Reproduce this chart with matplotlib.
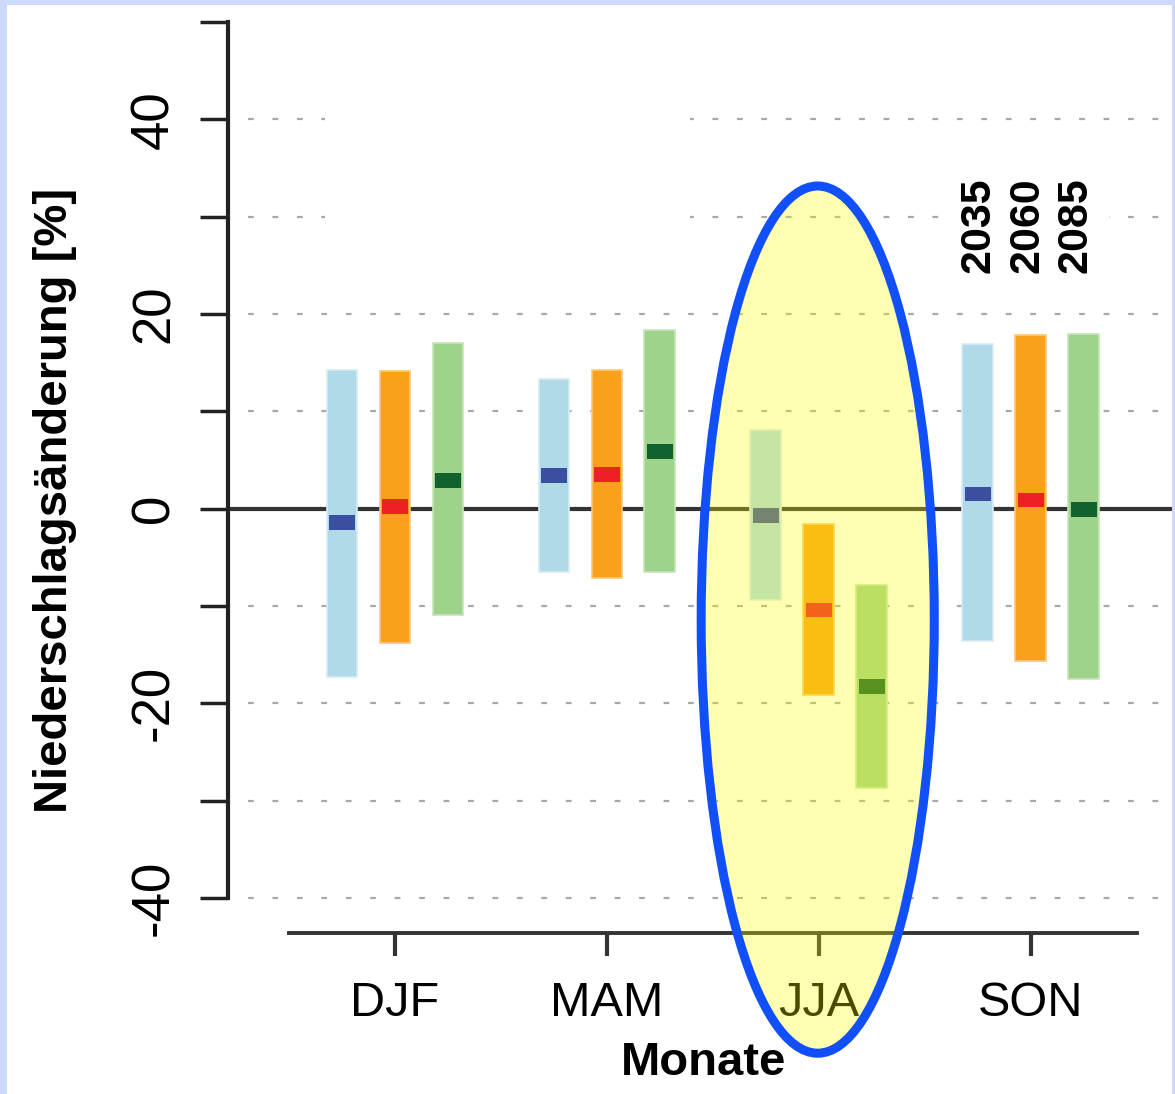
import matplotlib
matplotlib.use('Agg')
import matplotlib.pyplot as plt
from matplotlib.patches import Rectangle, Ellipse

seasons = ['DJF', 'MAM', 'JJA', 'SON']
periods = ['2035', '2060', '2085']

# Niederschlagsänderung [%]: Spannweite (unten/oben) und Median je Periode
low_2035 = [-17.3, -6.5, -9.4, -13.6]
high_2035 = [14.2, 13.3, 8.1, 16.9]
med_2035 = [-1.4, 3.4, -0.7, 1.5]
low_2060 = [-13.8, -7.1, -19.1, -15.7]
high_2060 = [14.1, 14.2, -1.6, 17.8]
med_2060 = [0.2, 3.5, -10.4, 0.9]
low_2085 = [-10.9, -6.5, -28.7, -17.5]
high_2085 = [17.0, 18.4, -7.8, 17.9]
med_2085 = [2.9, 5.9, -18.3, -0.1]

bar_col = ['#b0dae8', '#f9a11b', '#9fd28a']
edge_col = ['#d6ecf3', '#fcc873', '#c6e6b8']
med_col = ['#3a4fa0', '#ee1f26', '#12622f']

fig = plt.figure(figsize=(11.75, 10.94), dpi=100)
ax = fig.add_axes([228 / 1175, 1 - 933 / 1094, 1 - 228 / 1175, (933 - 22) / 1094])
ax.set_xlim(0.212, 4.681)
ax.set_ylim(-43.6, 50)

# grid (dotted) and zero line
for v in [-40, -30, -20, -10, 10, 20, 30, 40]:
    ax.plot([0.307, 4.681], [v, v], color='#a8a8a8', lw=1.6,
            dashes=(2.6, 8.4), zorder=1, solid_capstyle='butt')
ax.plot([0.212, 4.681], [0, 0], color='#333333', lw=3, zorder=1.5)
# blank area (former legend) hiding grid
ax.add_patch(Rectangle((0.67, 25), 1.72, 19, facecolor='white', edgecolor='none', zorder=1.2))

lows = [low_2035, low_2060, low_2085]
highs = [high_2035, high_2060, high_2085]
meds = [med_2035, med_2060, med_2085]
offsets = [-0.25, 0.0, 0.25]
w = 0.145
for k in range(3):
    for i in range(len(seasons)):
        xc = i + 1 + offsets[k]
        ax.bar(xc, highs[k][i] - lows[k][i], bottom=lows[k][i], width=w,
               color=bar_col[k], edgecolor=edge_col[k], linewidth=1.2, zorder=2)
        ax.bar(xc, 1.5, bottom=meds[k][i] - 0.75, width=w * 0.85,
               color=med_col[k], linewidth=0, zorder=3)

# axes styling
for s in ['top', 'right']:
    ax.spines[s].set_visible(False)
ax.spines['left'].set_bounds(-40, 50)
ax.spines['left'].set_linewidth(3)
ax.spines['left'].set_color('#222222')
ax.spines['bottom'].set_bounds(0.5, 4.5)
ax.spines['bottom'].set_linewidth(2.8)
ax.spines['bottom'].set_color('#333333')

ax.set_yticks(range(-40, 51, 10))
ax.set_yticklabels(['-40', '', '-20', '', '0', '', '20', '', '40', ''],
                   rotation=90, va='center',
                   family=['Liberation Sans Narrow', 'DejaVu Sans Condensed', 'Liberation Sans'],
                   fontsize=38)
ax.tick_params(axis='y', length=20, width=2.5, color='#222222', pad=15)
ax.set_xticks([1, 2, 3, 4])
ax.set_xticklabels(seasons, family='Liberation Sans', fontsize=35)
ax.tick_params(axis='x', length=16.5, width=3, color='#333333', pad=18)

# period labels
for k, p in enumerate(periods):
    ax.text(3.807 + 0.2285 * k, 29.1, p, rotation=90, rotation_mode='anchor',
            ha='center', va='baseline', fontsize=31, fontweight='bold',
            family='Liberation Sans', zorder=4,
            bbox=dict(facecolor='white', edgecolor='none', pad=10))

# highlight of summer
ax.add_patch(Ellipse((2.995, -11.4), 1.1, 89.1, facecolor=(1, 1, 0, 0.3),
                     edgecolor='#1150f8', linewidth=6.5, zorder=10, clip_on=False))

fig.text(67 / 1175, 1 - 500 / 1094, 'Niederschlagsänderung [%]', rotation=90,
         rotation_mode='anchor', ha='center', va='baseline',
         fontsize=34, fontweight='bold', family='Liberation Sans')
fig.text(704 / 1175, 1 - 1075 / 1094, 'Monate', ha='center', va='baseline',
         fontsize=34, fontweight='bold', family='Liberation Sans', zorder=20)

# frame
border = '#ccd9fb'
fig.patches.append(Rectangle((0, 0), 7 / 1175, 1, transform=fig.transFigure,
                             facecolor=border, edgecolor='none'))
fig.patches.append(Rectangle((0, 1 - 5 / 1094), 1, 5 / 1094, transform=fig.transFigure,
                             facecolor=border, edgecolor='none'))
fig.patches.append(Rectangle((1172 / 1175, 0), 3 / 1175, 1, transform=fig.transFigure,
                             facecolor=border, edgecolor='none'))

fig.savefig('out.png', dpi=100)
